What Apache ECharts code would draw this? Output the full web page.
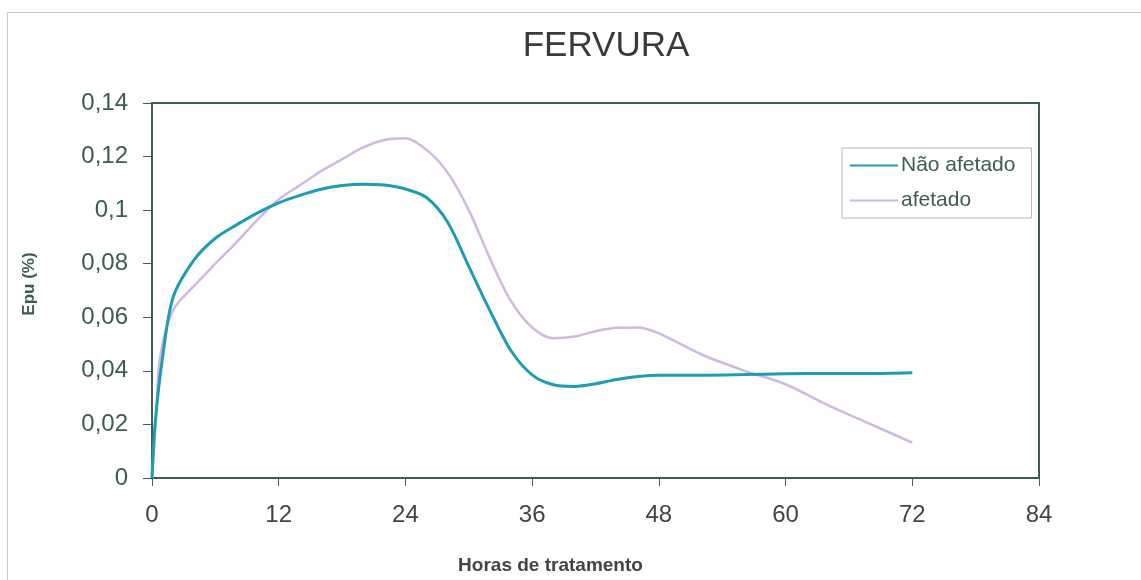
<!DOCTYPE html>
<html>
<head>
<meta charset="utf-8">
<script src="https://cdn.jsdelivr.net/npm/echarts@6/dist/echarts.min.js"></script>
<style>
  html, body { margin: 0; padding: 0; background: #fff; }
  #chart { width: 1141px; height: 580px; }
</style>
</head>
<body>
<div id="chart"></div>
<script>
// Horas de tratamento (h) and Epu (%) for each series
const naoAfetadoHoras = [0, 0.3, 1, 2, 4, 6, 8, 10, 12, 14, 16, 18, 20, 22, 24, 26, 28, 30, 32, 34, 36, 38, 40, 42, 44, 46, 48, 52, 56, 60, 64, 68, 72];
const naoAfetadoEpu   = [0, 0.0205, 0.045, 0.0675, 0.0815, 0.0895, 0.0945, 0.099, 0.1027, 0.1055, 0.1078, 0.1092, 0.1097, 0.1094, 0.1079, 0.1047, 0.0955, 0.079, 0.0625, 0.0475, 0.0385, 0.0348, 0.0342, 0.0352, 0.0368, 0.0379, 0.0384, 0.0384, 0.0386, 0.0389, 0.039, 0.039, 0.0393];

const afetadoHoras = [0, 0.35, 0.76, 2, 4, 6, 8, 10, 12, 14, 16, 18, 20, 22, 24, 26, 28, 30, 32, 34, 36, 38, 40, 42, 44, 46, 48, 52, 56, 60, 64, 68, 72];
const afetadoEpu   = [0, 0.0205, 0.045, 0.0627, 0.0718, 0.08, 0.088, 0.0965, 0.104, 0.1093, 0.1145, 0.119, 0.1234, 0.1262, 0.1268, 0.1225, 0.114, 0.1, 0.082, 0.066, 0.0562, 0.0522, 0.0528, 0.0548, 0.0561, 0.0562, 0.054, 0.0462, 0.0402, 0.035, 0.0272, 0.0202, 0.0132];

const xTicks = [0, 12, 24, 36, 48, 60, 72, 84];
const yTicks = [0, 0.02, 0.04, 0.06, 0.08, 0.1, 0.12, 0.14];

const pairs = (xs, ys) => xs.map((x, i) => [x, ys[i]]);

const font = 'Liberation Sans, Arial, sans-serif';
const axisColor = '#3b5f58';
const labelGreen = '#3b5c55';

const chart = echarts.init(document.getElementById('chart'), null, { renderer: 'canvas' });
chart.setOption({
  backgroundColor: '#fff',
  animation: false,
  graphic: [{
    type: 'rect',
    shape: { x: 7.5, y: 12.5, width: 1200, height: 700 },
    style: { fill: 'none', stroke: '#c8c8c8', lineWidth: 1 },
    silent: true,
    z: -1
  }],
  title: {
    text: 'FERVURA',
    left: 601,
    textAlign: 'center',
    top: 24,
    textStyle: { fontFamily: font, fontSize: 35, fontWeight: 'normal', color: '#3a3a3a' }
  },
  legend: {
    orient: 'vertical',
    left: 842,
    top: 148,
    width: 190,
    padding: [7, 16, 7, 8],
    itemGap: 14,
    itemWidth: 48,
    itemHeight: 2,
    icon: 'rect',
    borderColor: '#b8b8b8',
    borderWidth: 1,
    textStyle: { fontFamily: font, fontSize: 21, color: labelGreen, padding: [0, 0, 0, -2] },
    data: ['Não afetado', 'afetado']
  },
  grid: {
    left: 152, right: 102, top: 103, bottom: 102,
    outerBoundsMode: 'none',
    containLabel: false,
    show: true, borderColor: axisColor, borderWidth: 2, backgroundColor: '#fff'
  },
  xAxis: {
    type: 'value',
    min: 0, max: 84, interval: 12,
    name: 'Horas de tratamento',
    nameLocation: 'middle',
    nameGap: 78,
    nameTextStyle: { fontFamily: font, fontSize: 19, fontWeight: 'bold', color: '#444', padding: [0, 90, 0, 0] },
    axisLine: { show: true, lineStyle: { color: axisColor, width: 2 } },
    axisTick: { show: true, length: 8, lineStyle: { color: axisColor } },
    splitLine: { show: false },
    axisLabel: {
      margin: 25,
      fontFamily: font, fontSize: 24, color: '#444',
      formatter: v => xTicks.includes(v) ? String(v) : ''
    }
  },
  yAxis: {
    type: 'value',
    min: 0, max: 0.14, interval: 0.02,
    name: 'Epu (%)',
    nameLocation: 'middle',
    nameGap: 114,
    nameRotate: 90,
    nameTextStyle: { fontFamily: font, fontSize: 17, fontWeight: 'bold', color: labelGreen, padding: [0, 0, 0, 13] },
    axisLine: { show: true, lineStyle: { color: axisColor, width: 2 } },
    axisTick: { show: true, length: 9, lineStyle: { color: axisColor } },
    splitLine: { show: false },
    axisLabel: {
      margin: 24,
      fontFamily: font, fontSize: 24, color: labelGreen,
      formatter: v => {
        const t = yTicks.find(y => Math.abs(y - v) < 1e-9);
        return t === undefined ? '' : String(+t.toFixed(2)).replace('.', ',');
      }
    }
  },
  series: [
    {
      name: 'Não afetado',
      type: 'line',
      data: pairs(naoAfetadoHoras, naoAfetadoEpu),
      smooth: 0.3,
      symbol: 'none',
      lineStyle: { color: '#1f9cb3', width: 3 },
      itemStyle: { color: '#1f9cb3' },
      z: 3
    },
    {
      name: 'afetado',
      type: 'line',
      data: pairs(afetadoHoras, afetadoEpu),
      smooth: 0.3,
      symbol: 'none',
      lineStyle: { color: '#cfb9e0', width: 2.5 },
      itemStyle: { color: '#cfb9e0' },
      z: 2
    }
  ]
});
</script>
</body>
</html>
